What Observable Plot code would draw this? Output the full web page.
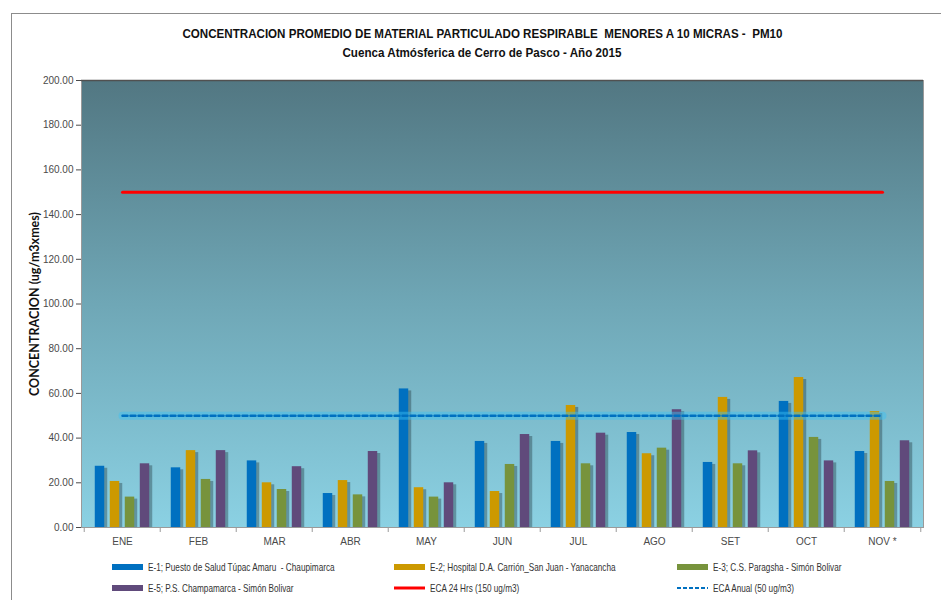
<!DOCTYPE html>
<html>
<head>
<meta charset="utf-8">
<script src="https://cdn.jsdelivr.net/npm/d3@7"></script>
<script src="https://cdn.jsdelivr.net/npm/@observablehq/plot@0.6"></script>
<style>
  html, body { margin: 0; padding: 0; background: #fff; }
  #wrap { position: relative; width: 941px; height: 600px; overflow: hidden; font-family: "Liberation Sans", Arial, sans-serif; }
  #border { position: absolute; left: 11px; top: 13px; width: 960px; height: 620px; border: 1px solid #8c8c8c; box-sizing: border-box; }
  #title { position: absolute; left: 23px; top: 24px; width: 918px; text-align: center; font-weight: bold; color: #111; }
  #title div { font-size: 13px; line-height: 19px; }
  #title span { display: inline-block; transform-origin: 50% 50%; white-space: pre; }
  #chart { position: absolute; left: 0; top: 66px; }
  .leg { position: absolute; display: flex; align-items: center; font-size: 11px; color: #333; white-space: nowrap; }
  .leg svg { margin-right: 4px; flex: none; }
  .leg span { display: inline-block; transform: scaleX(0.745); transform-origin: 0 50%; white-space: pre; }
</style>
</head>
<body>
<div id="wrap">
  <div id="border"></div>
  <div id="title">
    <div><span class="t1">CONCENTRACION PROMEDIO DE MATERIAL PARTICULADO RESPIRABLE  MENORES A 10 MICRAS -  PM10</span></div>
    <div><span class="t2">Cuenca Atmósferica de Cerro de Pasco - Año 2015</span></div>
  </div>
  <div id="chart"></div>
  <div id="legend"></div>
</div>
<script>
// ---- data ----
const months = ["ENE", "FEB", "MAR", "ABR", "MAY", "JUN", "JUL", "AGO", "SET", "OCT", "NOV *"];
const seriesNames = [
  "E-1; Puesto de Salud Túpac Amaru  - Chaupimarca",
  "E-2; Hospital D.A. Carrión_San Juan - Yanacancha",
  "E-3; C.S. Paragsha - Simón Bolivar",
  "E-5; P.S. Champamarca - Simón Bolivar"
];
const e1 = [27.4, 26.7, 29.8, 15.2, 62.0, 38.5, 38.5, 42.5, 29.1, 56.4, 34.0];
const e2 = [20.6, 34.4, 20.0, 21.0, 17.8, 16.1, 54.6, 33.0, 58.2, 67.1, 51.9];
const e3 = [13.6, 21.5, 17.0, 14.6, 13.6, 28.2, 28.5, 35.5, 28.5, 40.3, 20.6];
const e5 = [28.5, 34.4, 27.2, 34.0, 20.0, 41.6, 42.2, 52.7, 34.3, 29.8, 38.8];
const eca24Label = "ECA 24 Hrs (150 ug/m3)";
const eca24Value = 150;
const ecaAnualLabel = "ECA Anual (50 ug/m3)";
const ecaAnualValue = 50;
const yTicks = [0, 20, 40, 60, 80, 100, 120, 140, 160, 180, 200];
const seriesColors = ["#0070c0", "#cc9900", "#77933c", "#604a7b"];

// ---- title fitting (condensed look) ----
[[".t1", 600], [".t2", 279]].forEach(([sel, target]) => {
  const el = document.querySelector(sel);
  const w = el.getBoundingClientRect().width;
  el.style.transform = `scaleX(${target / w})`;
});

// ---- layout ----
const W = 941, H = 490, mL = 81, mR = 18, mT = 14, mB = 29;
const bw = (W - mL - mR) / months.length;
const barW = 10, barStep = 15;
const inset = (bw - barW) / 2;

const allSeries = [e1, e2, e3, e5];
const marks = [
  Plot.frame({fill: "url(#bgGrad)", stroke: "#9a9a9a"}),
  Plot.ruleY([yTicks[yTicks.length - 1]], {stroke: "#505050", strokeWidth: 1.5})
];
allSeries.forEach((vals, i) => {
  const data = months.map((m, j) => ({month: m, value: vals[j]}));
  const off = (i - (allSeries.length - 1) / 2) * barStep;
  marks.push(Plot.barY(data, {x: "month", y: "value", fill: "#13242c", fillOpacity: 0.35,
    insetLeft: inset, insetRight: inset, dx: off + 3, dy: 2, clip: true}));
  marks.push(Plot.barY(data, {x: "month", y: "value", fill: seriesColors[i],
    insetLeft: inset, insetRight: inset, dx: off}));
});
// reference lines
marks.push(Plot.lineY(months, {x: d => d, y: () => eca24Value, stroke: "#ff0000", strokeWidth: 3}));
marks.push(Plot.lineY(months, {x: d => d, y: () => ecaAnualValue, stroke: "#3cc0f5", strokeOpacity: 0.45, strokeWidth: 8}));
marks.push(Plot.lineY(months, {x: d => d, y: () => ecaAnualValue, stroke: "#0070c0", strokeWidth: 2.5, strokeDasharray: "5,3"}));
// category boundary ticks
marks.push(Plot.ruleX(months, {x: d => d, y1: () => 0, y2: () => 0, insetBottom: -5, dx: -bw / 2, stroke: "#9a9a9a"}));
marks.push(Plot.ruleX(months.slice(-1), {x: d => d, y1: () => 0, y2: () => 0, insetBottom: -5, dx: bw / 2, stroke: "#9a9a9a"}));

const chart = Plot.plot({
  width: W, height: H,
  marginLeft: mL, marginRight: mR, marginTop: mT, marginBottom: mB,
  style: {fontFamily: '"Liberation Sans", Arial, sans-serif', fontSize: "10px", color: "#4a4a4a", background: "transparent", overflow: "visible"},
  x: {domain: months, padding: 0, tickSize: 0, tickPadding: 10, label: null},
  y: {domain: [0, 200], ticks: yTicks, tickFormat: d3.format(".2f"), tickSize: 5, tickPadding: 3,
      label: "CONCENTRACION (ug/m3xmes)", labelAnchor: "center", labelOffset: 51, labelArrow: "none"},
  marks
});

// gradient defs
const svgSel = d3.select(chart.tagName.toLowerCase() === "svg" ? chart : chart.querySelector("svg"));
const grad = svgSel.insert("defs", ":first-child").append("linearGradient")
  .attr("id", "bgGrad").attr("x1", 0).attr("y1", 0).attr("x2", 0).attr("y2", 1);
grad.append("stop").attr("offset", "0%").attr("stop-color", "#527782");
grad.append("stop").attr("offset", "50%").attr("stop-color", "#6fa7b6");
grad.append("stop").attr("offset", "100%").attr("stop-color", "#8bd1e3");

// style y-axis label
svgSel.selectAll("text").each(function() {
  if (this.textContent.startsWith("CONCENTRACION")) {
    this.textContent = this.textContent.replace(/[\u2191\u2192\u2193\u2190]/g, "").trim();
    d3.select(this).style("font-family", "Lato, 'Open Sans', sans-serif").style("font-weight", "bold")
      .style("font-size", "12.5px").attr("fill", "#111");
  }
});
document.getElementById("chart").appendChild(chart);

// ---- legend ----
const legendItems = [
  {label: seriesNames[0], type: "bar", color: seriesColors[0], x: 112, y: 567},
  {label: seriesNames[1], type: "bar", color: seriesColors[1], x: 394, y: 567},
  {label: seriesNames[2], type: "bar", color: seriesColors[2], x: 677, y: 567},
  {label: seriesNames[3], type: "bar", color: seriesColors[3], x: 112, y: 588},
  {label: eca24Label, type: "line", color: "#ff0000", x: 394, y: 588},
  {label: ecaAnualLabel, type: "dash", color: "#0070c0", x: 677, y: 588}
];
const leg = d3.select("#legend");
legendItems.forEach(it => {
  const d = leg.append("div").attr("class", "leg").style("left", it.x + "px").style("top", (it.y - 8) + "px").style("height", "16px");
  const s = d.append("svg").attr("width", 32).attr("height", 10);
  if (it.type === "bar") s.append("rect").attr("x", 0).attr("y", 2).attr("width", 31).attr("height", 6).attr("fill", it.color);
  else if (it.type === "line") s.append("line").attr("x1", 0).attr("x2", 31).attr("y1", 5).attr("y2", 5).attr("stroke", it.color).attr("stroke-width", 3);
  else s.append("line").attr("x1", 0).attr("x2", 31).attr("y1", 5).attr("y2", 5).attr("stroke", it.color).attr("stroke-width", 2).attr("stroke-dasharray", "4,2");
  d.append("span").text(it.label);
});
</script>
</body>
</html>
